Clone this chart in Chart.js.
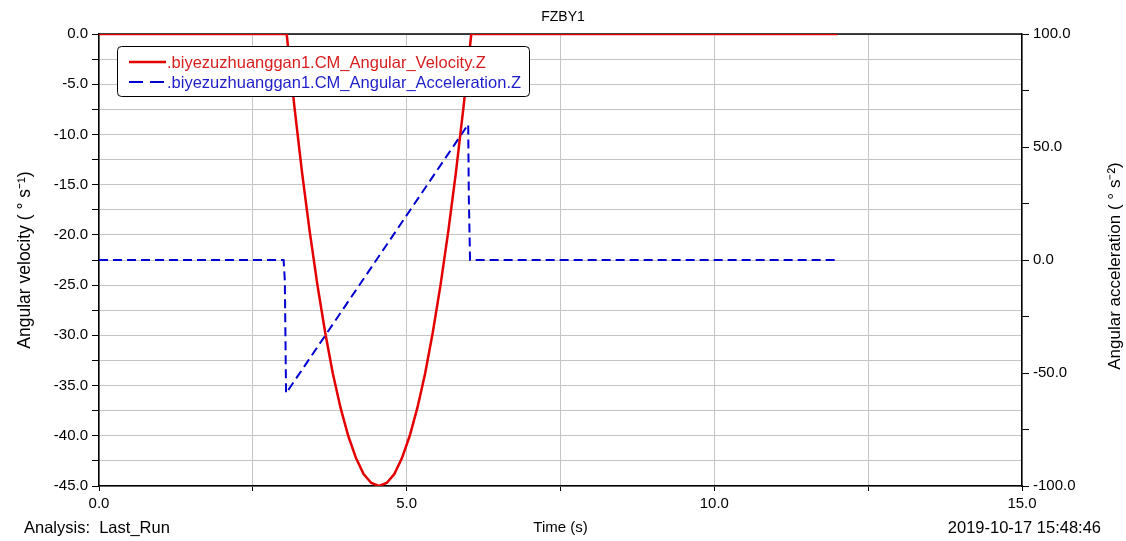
<!DOCTYPE html>
<html>
<head>
<meta charset="utf-8">
<script src="https://cdn.jsdelivr.net/npm/chart.js@4.4.0/dist/chart.umd.min.js"></script>
<style>
  html, body { margin: 0; padding: 0; background: #fff; }
  #chart-area { display: block; }
</style>
</head>
<body>
<canvas id="chart-area" width="1126" height="541"></canvas>
<script>
// data
const chartTitle = 'FZBY1';
const velLabel = '.biyezuzhuanggan1.CM_Angular_Velocity.Z';
const accLabel = '.biyezuzhuanggan1.CM_Angular_Acceleration.Z';

const velTime = [0, 3.05, 3.175, 3.3, 3.425, 3.55, 3.675, 3.8, 3.925, 4.05, 4.175, 4.3, 4.425, 4.55,
                 4.675, 4.8, 4.925, 5.05, 5.175, 5.3, 5.425, 5.55, 5.675, 5.8, 5.925, 6.05, 12.0];
const velValues = [0, 0, -7.2, -13.8, -19.7, -25.0, -29.7, -33.8, -37.2, -40.0, -42.2, -43.8, -44.7, -45.0,
                   -44.7, -43.8, -42.2, -40.0, -37.2, -33.8, -29.7, -25.0, -19.7, -13.8, -7.2, 0, 0];

const accTime = [0, 3.0, 3.02, 3.04, 6.0, 6.01, 6.03, 12.0];
const accValues = [0, 0, -9, -59, 60, 28, 0, 0];

const analysisText = 'Analysis:  Last_Run';
const dateText = '2019-10-17 15:48:46';
const rightTitle = 'Angular acceleration ( \u00b0 s\u207b\u00b2)';

const FONT = 'Arial, "Liberation Sans", sans-serif';

function toPoints(xs, ys) {
  return xs.map((x, i) => ({ x: x, y: ys[i] }));
}

// frame on top + texts that Chart.js can't place itself
const extras = {
  id: 'extras',
  beforeDatasetsDraw(chart) {
    const ctx = chart.ctx, a = chart.chartArea;
    ctx.save();
    ctx.strokeStyle = '#000';
    ctx.lineWidth = 1.5;
    ctx.beginPath();
    ctx.moveTo(a.left, a.top);
    ctx.lineTo(a.right, a.top);
    ctx.stroke();
    ctx.restore();
  },
  afterDraw(chart) {
    const ctx = chart.ctx, a = chart.chartArea;
    ctx.save();
    ctx.fillStyle = '#000';
    ctx.font = '16.5px ' + FONT;
    ctx.textBaseline = 'middle';
    ctx.textAlign = 'left';
    ctx.fillText(analysisText, 24, 528);
    ctx.textAlign = 'right';
    ctx.fillText(dateText, 1101, 528);

    ctx.font = '17px ' + FONT;
    ctx.translate(1115, (a.top + a.bottom) / 2 + 6);
    ctx.rotate(-Math.PI / 2);
    ctx.textAlign = 'center';
    ctx.fillText(rightTitle, 0, 0);
    ctx.restore();

    // legend box inside the plot
    const x = 117, y = 46, w = 412, h = 50;
    ctx.save();
    ctx.fillStyle = '#fff';
    ctx.strokeStyle = '#000';
    ctx.lineWidth = 1;
    ctx.beginPath();
    ctx.roundRect(x + 0.5, y + 0.5, w, h, 4);
    ctx.fill();
    ctx.stroke();
    ctx.font = '16.5px ' + FONT;
    ctx.textBaseline = 'middle';
    ctx.textAlign = 'left';
    chart.data.datasets.forEach((ds, i) => {
      const ly = y + 16 + i * 20;
      ctx.strokeStyle = ds.borderColor;
      ctx.lineWidth = ds.borderWidth;
      ctx.setLineDash(ds.borderDash ? [14, 7] : []);
      ctx.beginPath();
      ctx.moveTo(x + 12, ly);
      ctx.lineTo(x + 49, ly);
      ctx.stroke();
      ctx.setLineDash([]);
      ctx.fillStyle = ds.textColor;
      ctx.fillText(ds.label, x + 50, ly + 1);
    });
    ctx.restore();
  }
};

const ctx = document.getElementById('chart-area').getContext('2d');
const chart = new Chart(ctx, {
  type: 'line',
  data: {
    datasets: [{
      label: velLabel,
      data: toPoints(velTime, velValues),
      yAxisID: 'y',
      borderColor: 'rgb(228,0,0)',
      textColor: 'rgb(215,30,30)',
      borderWidth: 2.5,
      pointRadius: 0,
      tension: 0
    }, {
      label: accLabel,
      data: toPoints(accTime, accValues),
      yAxisID: 'y2',
      borderColor: 'rgb(0,0,210)',
      textColor: 'rgb(30,30,200)',
      borderWidth: 2,
      borderDash: [9, 5],
      pointRadius: 0,
      tension: 0
    }]
  },
  options: {
    responsive: false,
    animation: false,
    devicePixelRatio: 1,
    layout: { padding: 0 },
    plugins: {
      legend: { display: false },
      tooltip: { enabled: false },
      title: {
        display: true,
        text: chartTitle,
        color: '#000',
        font: { family: FONT, size: 14, weight: 'normal', lineHeight: 16 / 14 },
        padding: { top: 9, bottom: 9 }
      }
    },
    scales: {
      x: {
        type: 'linear',
        min: 0, max: 15,
        afterFit(scale) { scale.height = 55; },
        ticks: {
          stepSize: 2.5,
          autoSkip: false,
          maxRotation: 0,
          color: '#000',
          padding: 4,
          font: { family: FONT, size: 15 },
          callback(v) { return v % 5 === 0 ? v.toFixed(1) : ''; }
        },
        grid: { color: '#c4c4c4', lineWidth: 1, tickColor: '#000', tickLength: 5 },
        border: { color: '#000', width: 1.5 },
        title: {
          display: true, text: 'Time (s)', color: '#000',
          font: { family: FONT, size: 15 },
          padding: { top: 0, bottom: 4 }
        }
      },
      y: {
        position: 'left',
        min: -45, max: 0,
        afterFit(scale) { scale.width = 99; },
        ticks: {
          stepSize: 2.5,
          autoSkip: false,
          color: '#000',
          padding: 4,
          font: { family: FONT, size: 15 },
          callback(v) { return v % 5 === 0 ? v.toFixed(1) : ''; }
        },
        grid: { color: '#c4c4c4', lineWidth: 1, tickColor: '#000', tickLength: 7 },
        border: { color: '#000', width: 1.5 },
        title: {
          display: true, text: 'Angular velocity ( \u00b0 s\u207b\u00b9)', color: '#000',
          font: { family: FONT, size: 17.5 },
          padding: { top: 15, bottom: 0 }
        }
      },
      y2: {
        position: 'right',
        min: -100, max: 100,
        afterFit(scale) { scale.width = 104; },
        ticks: {
          stepSize: 25,
          autoSkip: false,
          color: '#000',
          padding: 4,
          font: { family: FONT, size: 15 },
          callback(v) { return v % 50 === 0 ? v.toFixed(1) : ''; }
        },
        grid: { drawOnChartArea: false, tickColor: '#000', tickLength: 7 },
        border: { color: '#000', width: 1.5 }
      }
    }
  },
  plugins: [extras]
});
</script>
</body>
</html>
